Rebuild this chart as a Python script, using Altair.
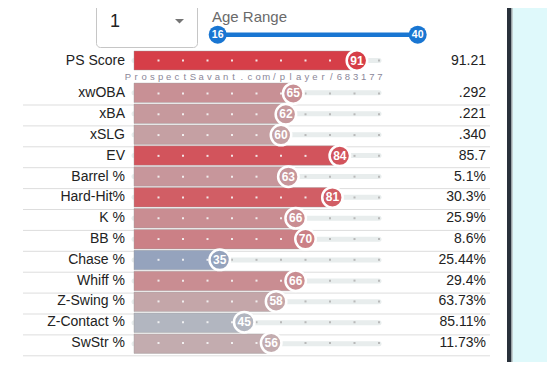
import altair as alt
import pandas as pd

# ---------------- data ----------------
METRICS = ["xwOBA", "xBA", "xSLG", "EV", "Barrel %", "Hard-Hit%", "K %", "BB %",
           "Chase %", "Whiff %", "Z-Swing %", "Z-Contact %", "SwStr %"]
SCORES = [65, 62, 60, 84, 63, 81, 66, 70, 35, 66, 58, 45, 56]
VALUES = [".292", ".221", ".340", "85.7", "5.1%", "30.3%", "25.9%", "8.6%",
          "25.44%", "29.4%", "63.73%", "85.11%", "11.73%"]
PS_LABEL = ["PS Score"]
PS_SCORE = [91]
PS_VALUE = ["91.21"]
TICKS = [10, 20, 30, 40, 50, 60, 70, 80, 90, 100]
AGE_RANGE = [16, 40]
DROPDOWN_VALUE = ["1"]
AGE_TITLE = ["Age Range"]
WATERMARK = "ProspectSavant.com/player/683177"

FONT = "Liberation Sans"

main_df = pd.DataFrame({"metric": METRICS, "score": SCORES, "value": VALUES})
ps_df = pd.DataFrame({"metric": PS_LABEL, "score": PS_SCORE, "value": PS_VALUE})


def dots_for(df):
    rows = []
    for m, s in zip(df["metric"], df["score"]):
        for t in TICKS:
            rows.append({"metric": m, "score": s, "tick": t})
    return pd.DataFrame(rows)


XS = alt.Scale(domain=[0, 100], range=[126, 371])
COLOR = alt.Color("score:Q",
                  scale=alt.Scale(domain=[0, 50, 100],
                                  range=["#3262b4", "#c0bfc1", "#db222d"],
                                  interpolate="rgb"),
                  legend=None)

MAIN_Y = alt.Scale(domain=METRICS, range=[75.1, 345.4], paddingInner=0.067, paddingOuter=0)
PS_Y = alt.Scale(domain=PS_LABEL, range=[43, 62], paddingInner=0, paddingOuter=0)
SEP_Y = alt.Scale(domain=METRICS, range=[76.1, 347.8], paddingInner=0, paddingOuter=0)


def row_layers(df, yscale):
    Y = alt.Y("metric:N", scale=yscale, axis=None, sort=None)
    base = alt.Chart(df)
    track = base.mark_rule(strokeWidth=5, color="#e8eded", strokeCap="round").transform_calculate(
        lo="0", hi="100").encode(
        x=alt.X("lo:Q", scale=XS, axis=None), x2="hi:Q", y=Y)
    bar = base.mark_bar(stroke="#9a9a9a", strokeWidth=0.8, strokeOpacity=0.5).transform_calculate(
        lo="0").encode(
        x=alt.X("lo:Q", scale=XS, axis=None), x2="score:Q", y=Y, color=COLOR)
    dots = alt.Chart(dots_for(df)).mark_square(size=4, opacity=0.9).encode(
        x=alt.X("tick:Q", scale=XS, axis=None), y=Y,
        color=alt.condition("datum.tick < datum.score", alt.value("#f6f6f6"), alt.value("#b3b3b3")))
    circ = base.mark_circle(size=420, opacity=1, stroke="white", strokeWidth=2.5).encode(
        x=alt.X("score:Q", scale=XS, axis=None), y=Y, color=COLOR)
    num = base.mark_text(color="white", fontWeight="bold", fontSize=12, font=FONT).encode(
        x=alt.X("score:Q", scale=XS, axis=None), y=Y, text="score:Q")
    label = base.mark_text(align="right", fontSize=14, color="#222222", font=FONT).encode(
        x=alt.value(117), y=Y, text="metric:N")
    val = base.mark_text(align="right", fontSize=14, color="#222222", font=FONT).encode(
        x=alt.value(478), y=Y, text="value:N")
    return [track, bar, dots, circ, num, label, val]


one = pd.DataFrame({"k": [0]})

# page frame: right border and outside background
frame_dark = alt.Chart(one).mark_rect(color="#29313b").encode(
    x=alt.value(499), x2=alt.value(503), y=alt.value(0), y2=alt.value(354))
frame_grey = alt.Chart(one).mark_rect(color="#9aa3a6").encode(
    x=alt.value(503), x2=alt.value(504.5), y=alt.value(0), y2=alt.value(354))
outside = alt.Chart(one).mark_rect(color="#dff9fb").encode(
    x=alt.value(504.5), x2=alt.value(539), y=alt.value(0), y2=alt.value(354))

# separators
seps = alt.Chart(main_df).mark_rule(color="#dddddd", strokeWidth=1).encode(
    x=alt.value(15), x2=alt.value(482),
    y=alt.Y("metric:N", scale=SEP_Y, axis=None, sort=None, bandPosition=1))

# dropdown
dd_box = alt.Chart(one).mark_rect(fill="white", stroke="#c6c6c6", strokeWidth=1, cornerRadius=4).encode(
    x=alt.value(88.5), x2=alt.value(189.5), y=alt.value(-10), y2=alt.value(39.5))
dd_text = alt.Chart(pd.DataFrame({"t": DROPDOWN_VALUE})).mark_text(
    align="left", baseline="middle", fontSize=18, color="#222222", font=FONT).encode(
    x=alt.value(102), y=alt.value(13.8), text="t:N")
dd_arrow = alt.Chart(one).mark_point(shape="M-1,-0.5L1,-0.5L0,0.5Z", size=81, filled=True,
                                     opacity=1, color="#757575").encode(
    x=alt.value(171.5), y=alt.value(13.3))

# age range slider
AS = alt.Scale(domain=[min(AGE_RANGE), max(AGE_RANGE)], range=[209.7, 409.7])
age_df = pd.DataFrame({"age": AGE_RANGE})
age_title = alt.Chart(pd.DataFrame({"t": AGE_TITLE})).mark_text(
    align="left", baseline="alphabetic", fontSize=15, color="#6a6a6a", font=FONT).encode(
    x=alt.value(204), y=alt.value(13.5), text="t:N")
slider_line = alt.Chart(age_df).mark_rule(color="#1976d2", strokeWidth=4.5).encode(
    x=alt.X("min(age):Q", scale=AS, axis=None), x2="max(age):Q", y=alt.value(26.7))
slider_knobs = alt.Chart(age_df).mark_circle(size=324, opacity=1, color="#1976d2").encode(
    x=alt.X("age:Q", scale=AS, axis=None), y=alt.value(26.7))
slider_text = alt.Chart(age_df).mark_text(color="white", fontWeight="bold", fontSize=10.5, font=FONT).encode(
    x=alt.X("age:Q", scale=AS, axis=None), y=alt.value(27), text="age:Q")

# watermark, letter-spaced
wm_df = pd.DataFrame({"idx": list(range(len(WATERMARK))), "ch": list(WATERMARK)})
WS = alt.Scale(domain=[0, len(WATERMARK) - 1], range=[120, 372])
watermark = alt.Chart(wm_df).mark_text(fontSize=9.5, color="#8b8799", font=FONT).encode(
    x=alt.X("idx:Q", scale=WS, axis=None), y=alt.value(69), text="ch:N")

layers = [outside, frame_dark, frame_grey, seps, dd_box, dd_text, dd_arrow,
          age_title, slider_line, slider_knobs, slider_text, watermark]
layers += row_layers(ps_df, PS_Y)
layers += row_layers(main_df, MAIN_Y)

chart = alt.layer(*layers).properties(
    width=539, height=354,
    autosize=alt.AutoSizeParams(type="none"),
    padding=0,
    background="white",
).resolve_scale(x="independent", y="independent").configure_view(stroke=None)

chart.save("out.html", embed_options={"renderer": "svg", "actions": False})
